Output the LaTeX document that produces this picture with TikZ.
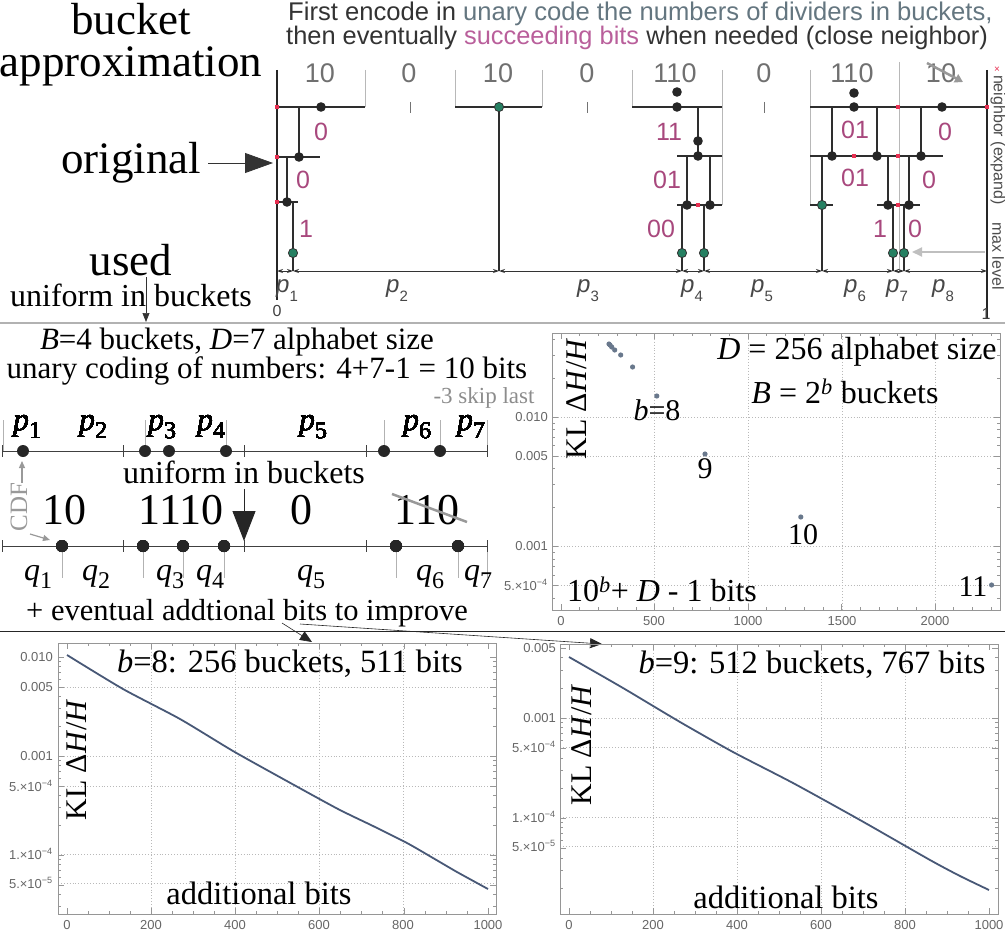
\documentclass[tikz,border=0pt]{standalone}
\usepackage{fontspec}
\setmainfont{Liberation Serif}
\setsansfont{Liberation Sans}
\usetikzlibrary{arrows.meta}
\definecolor{lblgray}{RGB}{112,112,112}
\definecolor{pinkc}{RGB}{168,72,125}
\definecolor{pinkt}{RGB}{185,95,155}
\definecolor{bluegray}{RGB}{100,118,128}
\definecolor{greenc}{RGB}{38,128,98}
\definecolor{redc}{RGB}{232,48,82}
\definecolor{curvec}{RGB}{72,88,118}
\definecolor{framec}{RGB}{150,150,150}
\definecolor{gridc}{RGB}{185,185,185}
\definecolor{ptc}{RGB}{105,120,140}
\newcommand\fsz[1]{\fontsize{#1}{#1}\selectfont}
\newcommand\pserif[2]{\textit{#1}\raisebox{-8pt}{\fsz{24}#2}}
\newcommand\psans[1]{\textit{p}\raisebox{-9pt}{\fsz{15}\upshape #1}}
\newcommand\Bdot[2]{\fill[black!85] (#1,#2) circle (4.8pt);}
\newcommand\Gdot[2]{\filldraw[fill=greenc, draw=black!80, line width=0.8pt] (#1,#2) circle (4.6pt);}
\newcommand\Rdot[2]{\fill[redc] ({#1-1.8},{#2-1.8}) rectangle ++(3.6,3.6);}
\newcommand\Mdot[2]{\fill[black!85] (#1,#2) circle (6pt);}
\newcommand\plotaxes[9]{%
  \draw[framec, line width=0.8pt] (#1,#3) rectangle (#2,#4);
  \foreach \i in {0,...,#8} {
    \pgfmathsetmacro\xx{#5+#6*#7*\i}
    \pgfmathtruncatemacro\mj{mod(\i,#9)==0 ? 6 : 3}
    \draw[framec, line width=0.6pt] (\xx,#4) -- ++(0,-\mj) (\xx,#3) -- ++(0,\mj);
  }
}
\newcommand\plotyticks[6]{%
  \foreach \e in {-5,-4,-3,-2} { \foreach \m in {1,...,9} {
    \pgfmathsetmacro\yy{#5-#6*(log10(\m)+\e+2)}
    \pgfmathtruncatemacro\ok{((\yy>#3+1)&&(\yy<#4-1)) ? 1 : 0}
    \ifnum\ok=1
      \pgfmathtruncatemacro\mj{((\m==1)||(\m==5)) ? 6 : 3}
      \draw[framec, line width=0.6pt] (#1,\yy) -- ++(\mj,0) (#2,\yy) -- ++(-\mj,0);
    \fi
  }}
}
\begin{document}
\begin{tikzpicture}[x=1pt,y=-1pt,
  tree/.style={line width=1.4pt, black!82},
  guide/.style={line width=1pt, black!28},
  bucketlbl/.style={font=\sffamily\fsz{27}, text=lblgray, inner sep=0},
  bitlbl/.style={font=\sffamily\fsz{25}, text=pinkc, inner sep=0},
  plbl/.style={font=\sffamily\fsz{24}, text=black!72, inner sep=0},
  big/.style={font=\fsz{45}, inner sep=0},
  mid/.style={font=\fsz{31}, inner sep=0},
  serp/.style={font=\fsz{32}, inner sep=0},
  tick/.style={font=\sffamily\fsz{13}, text=black!60, inner sep=0},
  grid/.style={gridc, dotted, line width=0.9pt},
  curve/.style={curvec, line width=1.8pt, line join=round},
  arr/.style={black!80, line width=0.7pt, -{Triangle[length=9pt,width=7pt]}},
  garr/.style={black!40, line width=1.2pt, -{Triangle[length=7pt,width=6pt]}},
  darr/.style={black!80, line width=1pt, {Stealth[length=6pt,width=4pt]}-{Stealth[length=6pt,width=4pt]}}
]
\useasboundingbox (0,0) rectangle (1005,934);

% ---------------- top left labels
\node[big] (bk) at (131,19) {bucket};
\node[big] (appr) at (131,66) {approximation};
\node[big] (orig) at (131,163) {original};
\node[big] (used) at (131,260) {used};
\node[font=\fsz{32}, inner sep=0] (unib) at (131,295) {uniform in buckets};
\coordinate (origtip) at (273,163);
\draw[black!80, line width=0.8pt, -{Triangle[length=28pt,width=20pt]}] ([xshift=7pt]orig.east) -- (origtip);
\coordinate (usedfrom) at (146,277);
\coordinate (usedto) at (146,322);
\draw[arr] (usedfrom) -- (usedto);

% ---------------- top text
\node[anchor=west, font=\sffamily\fsz{25.6}, text=black!80, inner sep=0] (l1) at (288,14)
  {First encode in \textcolor{bluegray}{unary code the numbers of dividers in buckets,}};
\node[anchor=west, font=\sffamily\fsz{25.4}, text=black!80, inner sep=0] (l2) at (286,38)
  {then eventually \textcolor{pinkt}{succeeding bits} when needed (close neighbor)};

% ---------------- top diagram
\foreach \x/\t in {320/10,409/0,498/10,587/0,675/110,764/0,852/110,941/10}
  \node[bucketlbl] at (\x,73) {\t};
\draw[guide] (365,70)--(365,107) (455,70)--(455,107) (542,70)--(542,107)
  (632,70)--(632,107) (722,70)--(722,205) (810,70)--(810,205) (899,62)--(899,270);
\draw[black!55, line width=1pt] (410,102)--(410,113) (587,102)--(587,113) (764,102)--(764,113);
\draw[line width=2pt, black!85] (277,70)--(277,300);
\draw[line width=2pt, black!85] (987,70)--(987,318);
\node[font=\sffamily\fsz{16}, text=black!75, inner sep=0] (zero) at (277,311) {0};
\node[font=\sffamily\fsz{16}, text=black!75, inner sep=0] (one) at (986,314) {1};
% bucket 1
\draw[tree] (277,107)--(365,107) (299,107)--(299,157) (277,157)--(320,157)
  (287,157)--(287,202) (277,202)--(298,202) (293,202)--(293,271);
\Bdot{321}{107} \Bdot{299}{157} \Bdot{287}{202} \Gdot{293}{253}
\Rdot{277}{107} \Rdot{277}{157} \Rdot{277}{202}
\node[bitlbl] at (321,132) {0};
\node[bitlbl] at (303,180) {0};
\node[bitlbl] at (306,229) {1};
% bucket 3
\draw[tree] (455,107)--(542,107) (499,107)--(499,271);
\Gdot{499}{107}
% bucket 5
\draw[tree] (632,107)--(722,107) (698,107)--(698,156) (677,156)--(722,156)
  (687,156)--(687,205) (710,156)--(710,205) (677,205)--(722,205)
  (682,205)--(682,271) (704,205)--(704,271);
\Bdot{677}{92} \Bdot{677}{107} \Bdot{698}{141} \Bdot{698}{156} \Bdot{687}{205} \Bdot{710}{205}
\Rdot{698}{205}
\Gdot{682}{253} \Gdot{704}{253}
\node[bitlbl] at (669,132) {11};
\node[bitlbl] at (667,180) {01};
\node[bitlbl] at (661,229) {00};
% bucket 7-8
\draw[tree] (810,107)--(987,107) (832,107)--(832,156) (877,107)--(877,156) (921,107)--(921,156)
  (810,156)--(943,156) (822,156)--(822,271) (810,205)--(833,205)
  (888,156)--(888,205) (909,156)--(909,205) (877,205)--(920,205)
  (893,205)--(893,271) (904,205)--(904,271);
\Bdot{854}{93} \Bdot{854}{107} \Bdot{942}{107} \Bdot{832}{156} \Bdot{877}{156} \Bdot{921}{156}
\Bdot{888}{205} \Bdot{909}{205}
\Gdot{822}{205} \Gdot{893}{253} \Gdot{904}{253}
\Rdot{898}{107} \Rdot{987}{107} \Rdot{854}{156} \Rdot{898}{156} \Rdot{898}{205}
\node[bitlbl] at (855,130) {01};
\node[bitlbl] at (855,178) {01};
\node[bitlbl] at (880,229) {1};
\node[bitlbl] at (915,229) {0};
\node[bitlbl] at (945,132) {0};
\node[bitlbl] at (929,180) {0};
\coordinate (s1) at (927,63); \coordinate (s2) at (963,82);
\draw[black!40, line width=2.5pt, -{Triangle[length=8pt,width=9pt]}] (s1) -- (s2);
\coordinate (ml1) at (985,252); \coordinate (ml2) at (912,252);
\draw[black!25, line width=2pt, -{Triangle[length=10pt,width=9pt]}] (ml1) -- (ml2);
\node[rotate=-90, font=\sffamily\fsz{16}, text=black!70, inner sep=0] (nb) at (998,140) {neighbor (expand)};
\node[rotate=-90, font=\sffamily\fsz{16}, text=black!70, inner sep=0] (mx) at (998,256) {max level};
\node[font=\sffamily\fsz{10}, text=redc, inner sep=0] at (997,70) {×};
\foreach \a/\b in {277/293,293/499,499/682,682/704,704/822,822/893,893/904,904/987}
  \draw[darr] (\a,271)--(\b,271);
\foreach \x/\n in {287/1,397/2,588/3,692/4,762/5,855/6,897/7,943/8}
  \node[plbl, font=\sffamily\itshape\fsz{24}] at (\x,291) {\psans{\n}};

% separators
\draw[black!30, line width=2pt] (0,323)--(1005,323);
\draw[black!85, line width=0.9pt] (0,631)--(1005,631);

% ---------------- middle left
\node[mid] (t1) at (237,342) {\textit{B}=4 buckets, \textit{D}=7 alphabet size};
\node[mid] (t2) at (267,371) {unary coding of numbers: 4+7-1 = 10 bits};
\node[font=\fsz{23}, text=black!45, inner sep=0] (t3) at (484,398) {-3 skip last};
\draw[black!30, line width=0.8pt] (3,420)--(3,451) (145,420)--(145,451) (226,420)--(226,451)
  (384,420)--(384,451) (440,420)--(440,451) (487,420)--(487,451);
\draw[black!30, line width=0.8pt] (62,546)--(62,578) (143,546)--(143,578) (183,546)--(183,578)
  (224,546)--(224,578) (396,546)--(396,578) (458,546)--(458,578) (487,546)--(487,578);
\draw[black!75, line width=0.9pt] (2,451)--(487,451) (2,546)--(487,546);
\foreach \x in {2,123,244,366,487}
  \draw[black!75, line width=0.9pt] (\x,445)--(\x,457) (\x,540)--(\x,552);
\foreach \x in {23,145,169,226,384,440} \Mdot{\x}{451}
\foreach \x in {62,143,183,224,396,458} \Mdot{\x}{546}
\foreach \x/\n in {27/1,93/2,162/3,211/4,313/5,417/6,471/7}
  \node[serp] at (\x,427) {\pserif{p}{\n}};
\foreach \x/\n in {38/1,96/2,170/3,210/4,311/5,430/6,478/7}
  \node[serp] at (\x,577) {\pserif{q}{\n}};
\node[font=\fsz{32}, inner sep=0] (unib2) at (244,472) {uniform in buckets};
\node[font=\fsz{44}, inner sep=0] (c1) at (64,510) {10};
\node[font=\fsz{44}, inner sep=0] (c2) at (181,510) {1110};
\node[font=\fsz{44}, inner sep=0] (c3) at (301,510) {0};
\node[font=\fsz{44}, inner sep=0] (c4) at (427,510) {110};
\draw[black!40, line width=2.5pt] (392,494) -- (467,522);
\coordinate (ba1) at (244,489); \coordinate (ba2) at (244,541);
\draw[black!85, line width=1pt, -{Triangle[length=30pt,width=23pt]}] (ba1) -- (ba2);
\node[rotate=90, font=\fsz{25}, text=black!40, inner sep=0] (cdf) at (19,507) {CDF};
\draw[garr] (22,483) -- (22,461);
\draw[garr] (30,534) -- (50,540);
\node[font=\fsz{30.5}, inner sep=0] (ev) at (247,613) {+ eventual addtional bits to improve};
\coordinate (e1) at (282,623); \coordinate (e2) at (312,642);
\coordinate (e3) at (300,624); \coordinate (e4) at (602,644);
\draw[black!85, line width=0.6pt, -{Triangle[length=12pt,width=10pt]}] (e1) -- (e2);
\draw[black!85, line width=0.6pt, -{Triangle[length=12pt,width=10pt]}] (e3) -- (e4);

% ---------------- middle right plot
\draw[grid] (654,333)--(654,610) (748,333)--(748,610) (842,333)--(842,610) (935,333)--(935,610);
\draw[grid] (552,417)--(1000,417) (552,456)--(1000,456) (552,546)--(1000,546) (552,585)--(1000,585);
\plotaxes{552}{1000}{333}{610}{561}{0.187}{100}{23}{5}
\plotyticks{552}{1000}{333}{610}{417}{129.5}
\foreach \x/\t in {561/0,654/500,748/1000,842/1500,935/2000}
  \node[tick] at (\x,621) {\t};
\node[tick, anchor=east] at (548,417) {0.010};
\node[tick, anchor=east] at (548,456) {0.005};
\node[tick, anchor=east] at (548,546) {0.001};
\node[tick, anchor=east] at (548,585) {5.×10\textsuperscript{−4}};
\foreach \x/\y in {609/344,610/345,611.7/347,614.7/350,620.7/355,632.6/367,656.8/396,705/454,800.8/517,991.6/585}
  \fill[ptc] (\x,\y) circle (2.6pt);
\node[font=\fsz{32}, inner sep=0] (dlab) at (857,352) {\textit{D} = 256 alphabet size};
\node[font=\fsz{32}, inner sep=0] (blab) at (845,391) {\textit{B} = 2\textsuperscript{\textit{b}} buckets};
\node[rotate=90, font=\fsz{30}, inner sep=0] (kl1) at (577,399) {KL Δ\textit{H}/\textit{H}};
\node[font=\fsz{30}, inner sep=0] at (657,410) {\textit{b}=8};
\node[font=\fsz{30}, inner sep=0] at (705,469) {9};
\node[font=\fsz{30}, inner sep=0] at (803,535) {10};
\node[font=\fsz{30}, inner sep=0] at (973,587) {11};
\node[font=\fsz{32}, inner sep=0] (bitsf) at (662,589) {10\textsuperscript{\textit{b}}+ \textit{D} - 1 bits};

% ---------------- bottom left plot
\draw[grid] (151,643)--(151,914) (235,643)--(235,914) (319,643)--(319,914) (403,643)--(403,914);
\draw[grid] (58,687)--(496,687) (58,756)--(496,756) (58,786)--(496,786) (58,854)--(496,854) (58,883)--(496,883);
\plotaxes{58}{496}{643}{914}{67}{0.421}{50}{20}{4}
\plotyticks{58}{496}{643}{914}{657}{99}
\foreach \x/\t in {67/0,151/200,235/400,319/600,403/800,488/1000}
  \node[tick] at (\x,925) {\t};
\node[tick, anchor=east] at (53,657) {0.010};
\node[tick, anchor=east] at (53,687) {0.005};
\node[tick, anchor=east] at (53,756) {0.001};
\node[tick, anchor=east] at (53,786) {5.×10\textsuperscript{−4}};
\node[tick, anchor=east] at (53,854) {1.×10\textsuperscript{−4}};
\node[tick, anchor=east] at (53,883) {5.×10\textsuperscript{−5}};
\draw[curve] plot[smooth, tension=0.4] coordinates {(67,655) (123,689) (180,719) (233,751) (285,780) (338,809) (373,826) (407,843) (433,858) (457,872) (488,889)};
\node[font=\fsz{32.5}, inner sep=0] (b8) at (290,664) {\textit{b}=8: 256 buckets, 511 bits};
\node[rotate=90, font=\fsz{30}, inner sep=0] (kl2) at (77,760) {KL Δ\textit{H}/\textit{H}};
\node[font=\fsz{32.5}, inner sep=0] (ab1) at (259,893) {additional bits};

% ---------------- bottom right plot
\draw[grid] (653,644)--(653,914) (737,644)--(737,914) (821,644)--(821,914) (905,644)--(905,914);
\draw[grid] (560,718)--(998,718) (560,747)--(998,747) (560,817)--(998,817) (560,846)--(998,846);
\plotaxes{560}{998}{644}{914}{569}{0.42}{50}{20}{4}
\plotyticks{560}{998}{644}{914}{618}{100}
\foreach \x/\t in {569/0,653/200,737/400,821/600,905/800,989/1000}
  \node[tick] at (\x,925) {\t};
\node[tick, anchor=east] at (556,648) {0.005};
\node[tick, anchor=east] at (556,718) {0.001};
\node[tick, anchor=east] at (556,747) {5.×10\textsuperscript{−4}};
\node[tick, anchor=east] at (556,817) {1.×10\textsuperscript{−4}};
\node[tick, anchor=east] at (556,846) {5.×10\textsuperscript{−5}};
\draw[curve] plot[smooth, tension=0.4] coordinates {(569,657) (623,688) (680,722) (733,752) (793,783) (860,820) (930,860) (960,876) (989,890)};
\node[font=\fsz{32.5}, inner sep=0] (b9) at (812,665) {\textit{b}=9: 512 buckets, 767 bits};
\node[rotate=90, font=\fsz{30}, inner sep=0] (kl3) at (582,745) {KL Δ\textit{H}/\textit{H}};
\node[font=\fsz{32.5}, inner sep=0] (ab2) at (786,897) {additional bits};
\end{tikzpicture}
\end{document}
